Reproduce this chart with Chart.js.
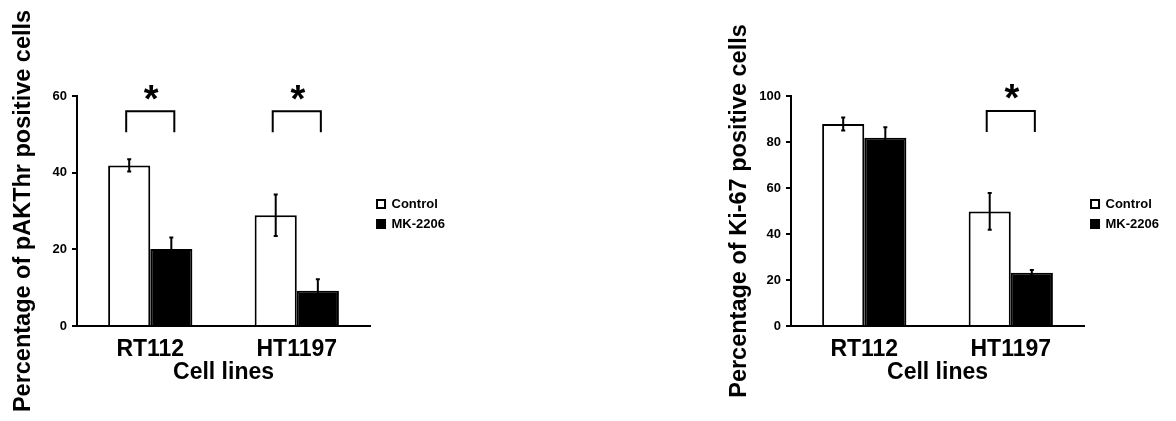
<!DOCTYPE html>
<html>
<head>
<meta charset="utf-8">
<script src="https://cdn.jsdelivr.net/npm/chart.js@4/dist/chart.umd.min.js"></script>
<style>
  html, body { margin: 0; padding: 0; background: #fff; }
  body { width: 1176px; height: 421px; position: relative; overflow: hidden; }
  .panel { position: absolute; top: 0; height: 421px; }
  #p1 { left: 0; width: 480px; }
  #p2 { left: 716px; width: 460px; }
</style>
</head>
<body>
<div class="panel" id="p1"><canvas id="c1"></canvas></div>
<div class="panel" id="p2"><canvas id="c2"></canvas></div>
<script>
// Shared categories and series
const cellLines = ['RT112', 'HT1197'];
const seriesNames = ['Control', 'MK-2206'];

// pAKThr panel (% positive cells, mean and error)
const paktControl = [41.9, 28.9];
const paktControlErr = [1.6, 5.4];
const paktMK = [20.1, 9.2];
const paktMKErr = [3.0, 3.0];
const paktTicks = [0, 20, 40, 60];
const paktSignificant = [true, true];
const paktBracketLevel = [56, 56];

// Ki-67 panel (% positive cells, mean and error)
const ki67Control = [87.8, 49.8];
const ki67ControlErr = [2.8, 8.0];
const ki67MK = [81.8, 23.2];
const ki67MKErr = [4.6, 1.2];
const ki67Ticks = [0, 20, 40, 60, 80, 100];
const ki67Significant = [false, true];
const ki67BracketLevel = [93.5, 93.5];

const FONT = "'Liberation Sans', Arial, Helvetica, sans-serif";
Chart.defaults.font.family = FONT;
Chart.defaults.color = '#000';

// Nudge the legend block slightly below the chart-area centre
const legendNudge = {
  id: 'legendNudge',
  afterLayout(chart) {
    if (chart.legend) { chart.legend.top += 3; chart.legend.bottom += 3; }
  }
};

// Error bars plus significance brackets with asterisks
const statsOverlay = {
  id: 'statsOverlay',
  afterDatasetsDraw(chart, args, opts) {
    const ctx = chart.ctx;
    const y = chart.scales.y;
    ctx.save();
    ctx.strokeStyle = '#000';
    ctx.fillStyle = '#000';
    ctx.lineWidth = 2;
    chart.data.datasets.forEach((ds, di) => {
      const meta = chart.getDatasetMeta(di);
      meta.data.forEach((bar, i) => {
        const v = ds.data[i], e = ds.errors[i];
        const yTop = y.getPixelForValue(v + e);
        const yBot = y.getPixelForValue(v - e);
        ctx.beginPath();
        ctx.moveTo(bar.x, yTop); ctx.lineTo(bar.x, yBot);
        ctx.moveTo(bar.x - 2, yTop); ctx.lineTo(bar.x + 2, yTop);
        ctx.moveTo(bar.x - 2, yBot); ctx.lineTo(bar.x + 2, yBot);
        ctx.stroke();
      });
    });
    chart.data.labels.forEach((lab, i) => {
      if (!opts.significant[i]) return;
      const b0 = chart.getDatasetMeta(0).data[i];
      const b1 = chart.getDatasetMeta(1).data[i];
      const cx = (b0.x + b1.x) / 2;
      const half = (b1.x - b0.x) / 2 + 3;
      const top = y.getPixelForValue(opts.bracketLevel[i]);
      ctx.beginPath();
      ctx.moveTo(cx - half, top + 21);
      ctx.lineTo(cx - half, top);
      ctx.lineTo(cx + half, top);
      ctx.lineTo(cx + half, top + 21);
      ctx.stroke();
      ctx.font = 'bold 38px ' + FONT;
      ctx.textAlign = 'center';
      ctx.textBaseline = 'middle';
      ctx.fillText('*', cx + 1, top - 10);
    });
    ctx.restore();
  }
};

function makeChart(canvasId, cfg) {
  return new Chart(document.getElementById(canvasId), {
    type: 'bar',
    data: {
      labels: cellLines,
      datasets: [
        {
          label: seriesNames[0], data: cfg.control, errors: cfg.controlErr,
          backgroundColor: '#fff', borderColor: '#000', borderWidth: 2,
          categoryPercentage: 0.575, barPercentage: 1.0
        },
        {
          label: seriesNames[1], data: cfg.mk, errors: cfg.mkErr,
          backgroundColor: '#000', borderColor: '#000', borderWidth: 2,
          categoryPercentage: 0.575, barPercentage: 1.0
        }
      ]
    },
    options: {
      responsive: true,
      maintainAspectRatio: false,
      animation: false,
      events: [],
      layout: { padding: { left: 0, top: 96, right: cfg.padRight, bottom: 0 } },
      scales: {
        x: {
          grid: { display: false },
          border: { display: true, color: '#000', width: 2 },
          ticks: { color: '#000', font: { size: 23, weight: 'bold' }, padding: 2 },
          title: {
            display: true, text: 'Cell lines', color: '#000',
            font: { size: 23, weight: 'bold' }, padding: { top: 0, bottom: 35 }
          },
          afterFit: s => { s.height = 95; }
        },
        y: {
          min: 0, max: cfg.ticks[cfg.ticks.length - 1],
          afterBuildTicks: s => { s.ticks = cfg.ticks.map(v => ({ value: v })); },
          grid: { display: true, drawOnChartArea: false, drawTicks: true, tickLength: 5, color: '#000', lineWidth: 2 },
          border: { display: true, color: '#000', width: 2 },
          ticks: { color: '#000', font: { size: 13, weight: 'bold' }, padding: 5 },
          title: {
            display: true, text: cfg.yTitle, color: '#000',
            font: { size: 23.5, weight: 'bold' }, padding: { top: 9, bottom: 0 }
          },
          afterFit: s => { s.width = cfg.yWidth; }
        }
      },
      plugins: {
        legend: {
          position: 'right', align: 'center', fullSize: false,
          labels: { boxWidth: 8, boxHeight: 8, color: '#000', font: { size: 13, weight: 'bold' }, padding: 7 }
        },
        tooltip: { enabled: false },
        statsOverlay: { significant: cfg.significant, bracketLevel: cfg.bracketLevel }
      }
    },
    plugins: [statsOverlay, legendNudge]
  });
}

makeChart('c1', {
  control: paktControl, controlErr: paktControlErr,
  mk: paktMK, mkErr: paktMKErr,
  ticks: paktTicks, significant: paktSignificant, bracketLevel: paktBracketLevel,
  yTitle: 'Percentage of pAKThr positive cells', yWidth: 77, padRight: 25
});

makeChart('c2', {
  control: ki67Control, controlErr: ki67ControlErr,
  mk: ki67MK, mkErr: ki67MKErr,
  ticks: ki67Ticks, significant: ki67Significant, bracketLevel: ki67BracketLevel,
  yTitle: 'Percentage of Ki-67 positive cells', yWidth: 75, padRight: 7
});
</script>
</body>
</html>
